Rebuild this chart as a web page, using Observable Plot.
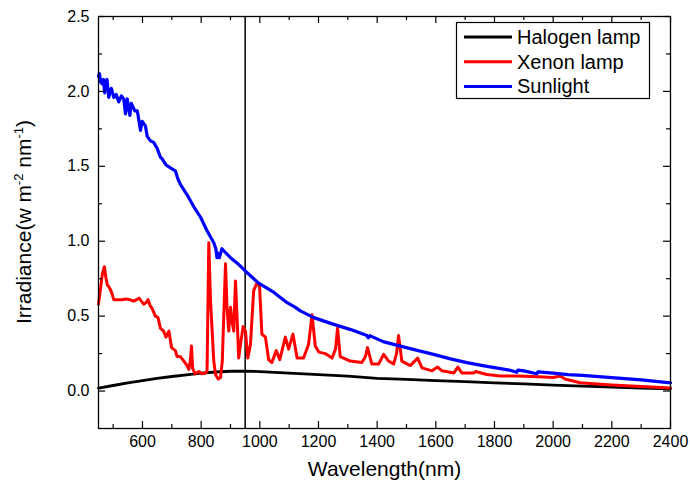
<!DOCTYPE html>
<html><head><meta charset="utf-8">
<script src="https://cdn.jsdelivr.net/npm/d3@7"></script>
<script src="https://cdn.jsdelivr.net/npm/@observablehq/plot@0.6"></script>
<style>body{margin:0;background:#fff}</style>
</head><body><div id="chart"></div>
<script>
// ---- data ----
const seriesNames = ["Halogen lamp", "Xenon lamp", "Sunlight"];
const seriesColors = ["#000000", "#ff0000", "#0000ff"];

const halogenWl = [450,500,550,600,650,700,750,800,850,900,950,1000,1100,1200,1300,1400,1500,1600,1700,1800,1900,2000,2100,2200,2300,2400];
const halogenVal = [0.02,0.037,0.055,0.07,0.085,0.097,0.108,0.12,0.127,0.132,0.133,0.13,0.12,0.11,0.1,0.085,0.078,0.07,0.063,0.055,0.048,0.04,0.033,0.027,0.02,0.015];

const xenonWl = [450,458,463,470,475,480,490,496,502,515,530,545,555,570,580,588,596,604,612,619,626,633,644,653,661,672,680,690,699,712,718,729,741,752,758,763,767,771,780,792,803,815,820,826,832,837,843,849,858,866,872,877,883,888,894,900,905,911,917,922,928,934,943,951,959,968,979,990,999,1007,1019,1030,1041,1056,1068,1087,1098,1113,1127,1149,1166,1178,1189,1201,1223,1246,1258,1265,1274,1308,1348,1360,1367,1382,1405,1422,1439,1456,1466,1473,1484,1513,1538,1553,1587,1606,1621,1661,1675,1689,1729,1735,1774,1820,1877,1950,2000,2024,2040,2092,2200,2300,2400];
const xenonVal = [0.58,0.70,0.78,0.83,0.76,0.71,0.68,0.65,0.61,0.61,0.61,0.615,0.61,0.60,0.61,0.62,0.60,0.58,0.59,0.61,0.57,0.55,0.50,0.49,0.42,0.40,0.36,0.40,0.29,0.27,0.23,0.23,0.20,0.17,0.145,0.2,0.30,0.15,0.115,0.13,0.115,0.12,0.13,0.99,0.6,0.42,0.2,0.11,0.08,0.09,0.2,0.5,0.85,0.56,0.40,0.56,0.47,0.40,0.735,0.51,0.22,0.31,0.43,0.40,0.22,0.31,0.67,0.72,0.70,0.38,0.36,0.21,0.19,0.27,0.21,0.36,0.28,0.38,0.22,0.22,0.31,0.51,0.30,0.26,0.25,0.22,0.28,0.42,0.23,0.20,0.19,0.23,0.29,0.18,0.18,0.245,0.20,0.18,0.25,0.37,0.20,0.17,0.22,0.155,0.135,0.16,0.135,0.12,0.16,0.12,0.12,0.13,0.11,0.10,0.10,0.095,0.09,0.10,0.08,0.055,0.04,0.03,0.02];

const sunWl = [450,453,458,463,467,471,475,479,485,490,494,502,510,519,528,536,542,548,557,562,574,582,585,593,599,610,616,627,638,650,661,667,680,695,712,720,729,752,775,798,820,843,850,854,858,862,871,885,900,925,951,996,1047,1093,1120,1138,1184,1252,1310,1365,1370,1375,1420,1479,1540,1592,1650,1706,1760,1820,1850,1876,1880,1900,1944,1948,2000,2050,2100,2200,2300,2400];
const sunVal = [2.10,2.12,2.06,2.05,2.08,1.99,2.05,2.08,1.96,2.0,2.02,1.96,1.98,1.93,1.97,1.95,1.85,1.95,1.84,1.92,1.87,1.87,1.84,1.74,1.80,1.77,1.70,1.67,1.66,1.62,1.56,1.55,1.51,1.49,1.47,1.42,1.38,1.31,1.23,1.16,1.07,0.99,0.95,0.89,0.92,0.89,0.95,0.92,0.89,0.85,0.80,0.72,0.66,0.59,0.56,0.535,0.49,0.445,0.41,0.37,0.355,0.37,0.33,0.30,0.27,0.245,0.215,0.19,0.17,0.15,0.14,0.125,0.14,0.135,0.115,0.128,0.12,0.11,0.105,0.09,0.075,0.055];

const markerWl = [950];
const xMajor = [600,800,1000,1200,1400,1600,1800,2000,2200,2400];
const xMinor = [500,700,900,1100,1300,1500,1700,1900,2100,2300];
const yMajor = [0.0,0.5,1.0,1.5,2.0,2.5];
const yMinor = [0.25,0.75,1.25,1.75,2.25];

// ---- build ----
const W = 690, H = 490, mL = 98, mR = 20, mT = 16, mB = 62;
const innerW = W - mL - mR, innerH = H - mT - mB;
const rows = (wl, v) => wl.map((w, i) => ({wl: w, v: v[i]}));
const halogen = rows(halogenWl, halogenVal);
const xenon = rows(xenonWl, xenonVal);
const sun = rows(sunWl, sunVal);
const font = "'Liberation Sans', Arial, Helvetica, sans-serif";

const chart = Plot.plot({
  width: W, height: H,
  marginLeft: mL, marginRight: mR, marginTop: mT, marginBottom: mB,
  style: {fontFamily: font, background: "#fff", color: "#000"},
  x: {domain: [450, 2400], label: null},
  y: {domain: [-0.25, 2.5], label: null},
  marks: [
    Plot.ruleX(markerWl, {x: d => d, stroke: "#000", strokeWidth: 1.5}),
    Plot.line(halogen, {x: "wl", y: "v", stroke: seriesColors[0], strokeWidth: 2.8}),
    Plot.line(xenon, {x: "wl", y: "v", stroke: seriesColors[1], strokeWidth: 3, strokeLinejoin: "round"}),
    Plot.line(sun, {x: "wl", y: "v", stroke: seriesColors[2], strokeWidth: 3.2, strokeLinejoin: "round"}),
    Plot.frame({stroke: "#000", strokeWidth: 1.3}),
    // inward ticks on all four sides
    Plot.tickX(xMajor, {x: d => d, insetTop: innerH - 7, stroke: "#000", strokeWidth: 1.2}),
    Plot.tickX(xMinor, {x: d => d, insetTop: innerH - 4, stroke: "#000", strokeWidth: 1.2}),
    Plot.tickX(xMajor, {x: d => d, insetBottom: innerH - 7, stroke: "#000", strokeWidth: 1.2}),
    Plot.tickX(xMinor, {x: d => d, insetBottom: innerH - 4, stroke: "#000", strokeWidth: 1.2}),
    Plot.tickY(yMajor, {y: d => d, insetRight: innerW - 7, stroke: "#000", strokeWidth: 1.2}),
    Plot.tickY(yMinor, {y: d => d, insetRight: innerW - 4, stroke: "#000", strokeWidth: 1.2}),
    Plot.tickY(yMajor, {y: d => d, insetLeft: innerW - 7, stroke: "#000", strokeWidth: 1.2}),
    Plot.tickY(yMinor, {y: d => d, insetLeft: innerW - 4, stroke: "#000", strokeWidth: 1.2}),
    Plot.axisX({ticks: xMajor, tickSize: 0, tickPadding: 7, fontSize: 16, tickFormat: d => String(d), label: null}),
    Plot.axisY({ticks: yMajor, tickSize: 0, tickPadding: 9, fontSize: 16, tickFormat: d3.format(".1f"), label: null}),
    Plot.text(["Wavelength(nm)"], {frameAnchor: "bottom", dy: 47, fontSize: 21, text: d => d, fill: "#000"})
  ]
});

const svg = d3.select(chart);
// y-axis title with superscripts
const yt = svg.append("text")
  .attr("transform", `translate(31,${mT + innerH / 2}) rotate(-90)`)
  .attr("text-anchor", "middle")
  .attr("font-family", font).attr("font-size", 21).attr("fill", "#000");
yt.append("tspan").text("Irradiance(w m");
yt.append("tspan").attr("dy", -8).attr("font-size", 13).text("-2");
yt.append("tspan").attr("dy", 8).text(" nm");
yt.append("tspan").attr("dy", -8).attr("font-size", 13).text("-1");
yt.append("tspan").attr("dy", 8).text(")");

// legend
const lg = svg.append("g").attr("text-anchor", "start");
lg.append("rect").attr("x", 456.5).attr("y", 22.5).attr("width", 193).attr("height", 76)
  .attr("fill", "#fff").attr("stroke", "#000").attr("stroke-width", 1.2);
seriesNames.forEach((name, i) => {
  const y = 37 + i * 24.7;
  lg.append("line").attr("x1", 464).attr("x2", 512).attr("y1", y).attr("y2", y)
    .attr("stroke", seriesColors[i]).attr("stroke-width", 3);
  lg.append("text").attr("x", 517).attr("y", y).attr("dy", "0.35em")
    .attr("text-anchor", "start")
    .attr("font-family", font).attr("font-size", 20).attr("fill", "#000").text(name);
});

document.getElementById("chart").appendChild(chart);
</script>
</body></html>
